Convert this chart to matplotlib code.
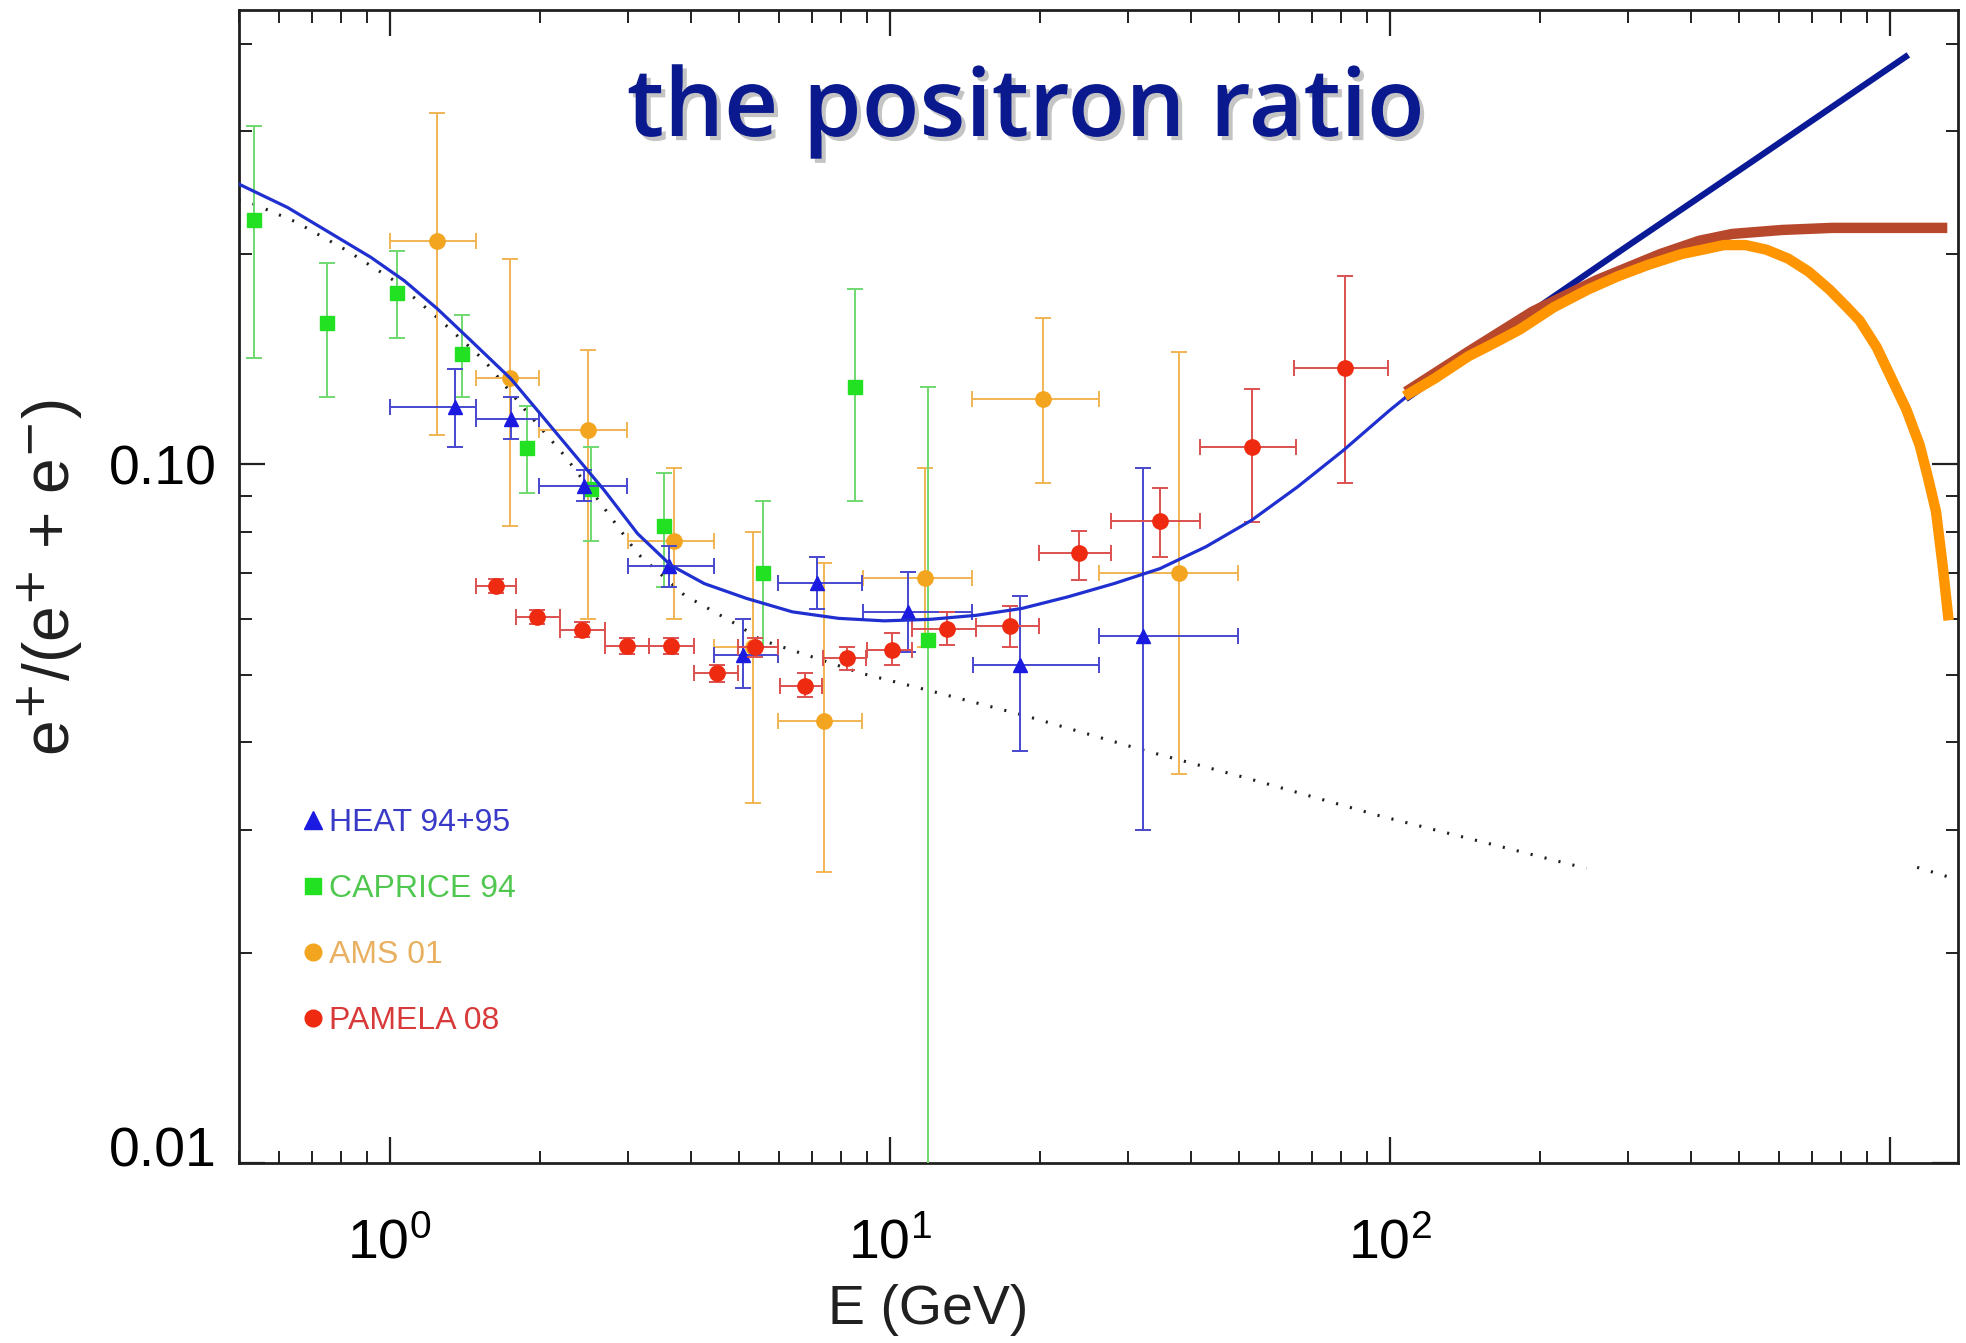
import matplotlib
matplotlib.use('Agg')
import numpy as np
import matplotlib.pyplot as plt
import matplotlib.patheffects as pe
import matplotlib.transforms as mtransforms
from matplotlib.lines import Line2D
from matplotlib.ticker import LogLocator, NullFormatter, FixedLocator
from matplotlib import font_manager

# ---------------- data ----------------
heat_E = [1.35, 1.75, 2.45, 3.62, 5.09, 7.16, 10.9, 18.2, 32.1]
heat_E_lo = [1.00, 1.49, 1.99, 3.00, 4.46, 5.98, 8.86, 14.7, 26.2]
heat_E_hi = [1.49, 1.99, 2.99, 4.46, 5.98, 8.81, 14.6, 26.2, 49.7]
heat_R = [0.121, 0.116, 0.0932, 0.0716, 0.0534, 0.0676, 0.0614, 0.0517, 0.0568]
heat_R_lo = [0.106, 0.1086, 0.0887, 0.0668, 0.0478, 0.0620, 0.0538, 0.0389, 0.0300]
heat_R_hi = [0.137, 0.125, 0.098, 0.0765, 0.060, 0.0737, 0.0701, 0.0648, 0.0988]

caprice_E = [0.536, 0.749, 1.035, 1.397, 1.887, 2.53, 3.54, 5.58, 8.51, 11.96]
caprice_R = [0.2236, 0.1594, 0.176, 0.1438, 0.1055, 0.0921, 0.0817, 0.0698, 0.129, 0.0561]
caprice_R_lo = [0.142, 0.125, 0.1517, 0.125, 0.091, 0.0777, 0.0668, 0.0547, 0.0887, 0.005]
caprice_R_hi = [0.305, 0.194, 0.2017, 0.1634, 0.1214, 0.106, 0.0971, 0.0887, 0.178, 0.129]

ams_E = [1.245, 1.74, 2.49, 3.71, 5.33, 7.41, 11.75, 20.3, 37.9]
ams_E_lo = [1.0, 1.49, 1.99, 3.0, 4.46, 5.98, 8.86, 14.6, 26.2]
ams_E_hi = [1.49, 1.99, 2.99, 4.46, 5.98, 8.81, 14.6, 26.2, 49.7]
ams_R = [0.209, 0.133, 0.1118, 0.0777, 0.0547, 0.0429, 0.0687, 0.124, 0.0698]
ams_R_lo = [0.110, 0.0817, 0.060, 0.060, 0.0328, 0.0261, 0.0547, 0.094, 0.036]
ams_R_hi = [0.3187, 0.1968, 0.1456, 0.0988, 0.080, 0.0722, 0.0988, 0.162, 0.145]

pamela_E = [1.633, 1.976, 2.43, 2.99, 3.66, 4.51, 5.39, 6.79, 8.22, 10.1, 13.0, 17.4, 23.9, 34.8, 53.0, 81.3]
pamela_E_lo = [1.49, 1.79, 2.19, 2.70, 3.31, 4.06, 4.97, 6.05, 7.36, 9.0, 11.1, 14.9, 19.9, 27.7, 41.7, 64.5]
pamela_E_hi = [1.79, 2.19, 2.70, 3.31, 4.06, 4.97, 5.98, 7.32, 8.98, 11.1, 14.9, 19.9, 27.7, 41.7, 65.0, 99.4]
pamela_R = [0.067, 0.0604, 0.058, 0.055, 0.055, 0.0502, 0.0547, 0.0482, 0.0528, 0.0543, 0.0582, 0.0587, 0.0746, 0.0831, 0.106, 0.1374]
pamela_R_lo = [0.0655, 0.0590, 0.0566, 0.0536, 0.0536, 0.0488, 0.0530, 0.0464, 0.0508, 0.0517, 0.0552, 0.0547, 0.0684, 0.0737, 0.0827, 0.094]
pamela_R_hi = [0.0685, 0.0618, 0.0594, 0.0564, 0.0564, 0.0516, 0.0564, 0.0502, 0.0548, 0.0573, 0.0615, 0.0627, 0.0804, 0.0924, 0.128, 0.186]

model_E = [0.497, 0.625, 0.787, 0.918, 1.070, 1.247, 1.454, 1.748, 1.977, 2.305, 2.688, 3.133,
           3.652, 4.261, 5.17, 6.39, 7.90, 9.76, 12.06, 14.9, 18.4, 22.7, 28.1, 34.7, 42.9,
           53.0, 65.4, 80.8, 99.9, 109.9]
model_R = [0.2523, 0.2332, 0.2113, 0.1978, 0.1832, 0.1669, 0.1504, 0.1326, 0.1194, 0.1047,
           0.0918, 0.0796, 0.0717, 0.0675, 0.0643, 0.0615, 0.0602, 0.0597, 0.0600, 0.0608,
           0.0622, 0.0646, 0.0675, 0.0709, 0.0762, 0.0832, 0.0928, 0.1047, 0.1194, 0.1262]

bg_E = [0.499, 0.535, 0.648, 0.818, 1.022, 1.266, 1.547, 1.859, 2.236, 2.646, 3.133, 3.886,
        4.966, 5.52, 8.81, 11.8, 18.4, 32.1, 51.5, 95.5, 159.6, 247.5]
bg_R = [0.2390, 0.2358, 0.2225, 0.2027, 0.1832, 0.1606, 0.1408, 0.1201, 0.1030, 0.0879,
        0.0745, 0.0650, 0.0589, 0.0561, 0.0502, 0.0476, 0.0438, 0.039, 0.0356, 0.0314,
        0.0286, 0.0264]
bg2_E = [1135, 1304]
bg2_R = [0.0265, 0.0257]

navy_E = [107.8, 169, 301, 536, 1090]
navy_R = [0.124, 0.1552, 0.206, 0.2726, 0.3855]

brown_E = [107.8, 143.8, 193, 259, 348, 415.9, 484.5, 609, 767, 1304]
brown_R = [0.127, 0.145, 0.1654, 0.1834, 0.2, 0.2089, 0.2137, 0.2165, 0.218, 0.218]

orange_E = [107.2, 123.3, 143.8, 162.1, 182.3, 212.9, 249.2, 285.8, 327.6, 383.6, 422.6,
            466.6, 514.9, 566.8, 626.8, 689, 758, 821.7, 871, 941.9, 1015, 1080, 1148,
            1191, 1238, 1276, 1312]
orange_R = [0.1252, 0.1328, 0.1428, 0.1492, 0.156, 0.1678, 0.1779, 0.1858, 0.1928, 0.2,
            0.2029, 0.206, 0.206, 0.2029, 0.197, 0.1887, 0.1779, 0.1678, 0.1606, 0.1471,
            0.1315, 0.1198, 0.1066, 0.0962, 0.0856, 0.0718, 0.0598]

legend_labels = ['HEAT 94+95', 'CAPRICE 94', 'AMS 01', 'PAMELA 08']
x_tick_vals = [1, 10, 100, 1000]
x_tick_labels = [r'$\mathregular{10^{0}}$', r'$\mathregular{10^{1}}$', r'$\mathregular{10^{2}}$', '']
y_tick_vals = [0.01, 0.1]
y_tick_labels = ['0.01', '0.10']

# ---------------- fonts ----------------
available = {f.name for f in font_manager.fontManager.ttflist}
narrow = [f for f in ['Liberation Sans Narrow', 'DejaVu Sans Condensed'] if f in available]
legend_family = narrow + ['Liberation Sans', 'DejaVu Sans']

# ---------------- figure ----------------
W, H = 1966, 1343
fig = plt.figure(figsize=(W / 100, H / 100), dpi=100)
fig.patch.set_facecolor('white')
L, R, T, B = 239, 1958, 10, 1163
ax = fig.add_axes([L / W, 1 - B / H, (R - L) / W, (B - T) / H])
ax.set_xscale('log')
ax.set_yscale('log')
ax.set_xlim(0.5, 1370)
ax.set_ylim(0.01, 0.447)

def errs(v, lo, hi):
    v = np.asarray(v, float)
    return [v - np.asarray(lo, float), np.asarray(hi, float) - v]

c_heat, e_heat = '#1a1ae0', '#4848d0'
c_cap, e_cap = '#22e022', '#70d870'
c_ams, e_ams = '#f4a520', '#f0b454'
c_pam, e_pam = '#ee2a10', '#dd5050'

ekw = dict(elinewidth=1.4, capsize=6, capthick=1.4, linestyle='none')
ax.errorbar(ams_E, ams_R, xerr=errs(ams_E, ams_E_lo, ams_E_hi),
            yerr=errs(ams_R, ams_R_lo, ams_R_hi), fmt='o', color=c_ams,
            ecolor=e_ams, ms=11, zorder=3, **ekw)
ax.errorbar(caprice_E, caprice_R, yerr=errs(caprice_R, caprice_R_lo, caprice_R_hi),
            fmt='s', color=c_cap, ecolor=e_cap, ms=9.5, zorder=3, **ekw)
ax.errorbar(heat_E, heat_R, xerr=errs(heat_E, heat_E_lo, heat_E_hi),
            yerr=errs(heat_R, heat_R_lo, heat_R_hi), fmt='^', color=c_heat,
            ecolor=e_heat, ms=10.5, zorder=4, **ekw)
ax.errorbar(pamela_E, pamela_R, xerr=errs(pamela_E, pamela_E_lo, pamela_E_hi),
            yerr=errs(pamela_R, pamela_R_lo, pamela_R_hi), fmt='o', color=c_pam,
            ecolor=e_pam, ms=11, zorder=5, **ekw)

dot_style = dict(color='#202020', lw=2.2, linestyle=(0, (0.7, 4.0)), zorder=2)
ax.plot(bg_E, bg_R, **dot_style)
ax.plot(bg2_E, bg2_R, **dot_style)
ax.plot(model_E, model_R, color='#2030d0', lw=2.3, zorder=6, solid_joinstyle='round')

ax.plot(navy_E, navy_R, color='#0a1a96', lw=4.5, zorder=7, solid_capstyle='butt')
ax.plot(brown_E, brown_R, color='#b8482c', lw=7.5, zorder=8, solid_capstyle='butt',
        solid_joinstyle='round')
ax.plot(orange_E, orange_R, color='#ff9500', lw=7.5, zorder=9, solid_capstyle='butt',
        solid_joinstyle='round')

# ---------------- axes styling ----------------
tick_font = ['Liberation Sans', 'DejaVu Sans']
ax.xaxis.set_major_locator(FixedLocator(x_tick_vals))
ax.set_xticklabels(x_tick_labels, fontsize=40, family=tick_font)
ax.xaxis.set_minor_locator(LogLocator(base=10, subs=np.arange(2, 10)))
ax.xaxis.set_minor_formatter(NullFormatter())
ax.yaxis.set_major_locator(FixedLocator(y_tick_vals))
ax.set_yticklabels(y_tick_labels, fontsize=40, family=tick_font)
ax.yaxis.set_minor_locator(LogLocator(base=10, subs=np.arange(2, 10)))
ax.yaxis.set_minor_formatter(NullFormatter())

ax.tick_params(which='both', direction='in', top=True, right=True, color='#202020')
ax.tick_params(which='major', length=19, width=1.6)
ax.tick_params(which='minor', length=9, width=1.4)
ax.tick_params(axis='x', which='major', pad=40)
ax.tick_params(axis='y', which='major', pad=16)
for s in ax.spines.values():
    s.set_linewidth(2.0)
    s.set_color('#202020')

# the lowest y label sits a little above its tick in the reference
lbl = ax.get_yticklabels()[0]
lbl.set_transform(lbl.get_transform() + mtransforms.ScaledTranslation(0, 12 / 72, fig.dpi_scale_trans))

fig.text(928 / W, 1 - 1310 / H, 'E (GeV)', fontsize=40, family=tick_font,
         ha='center', va='center', color='#202020')
fig.text(50 / W, 1 - 577 / H, r'e$^{+}$/(e$^{+}$ + e$^{-}$)', fontsize=46,
         family=tick_font, rotation=90, ha='center', va='center', color='#202020')

fig.text(1026 / W, 1 - 136 / H, 'the positron ratio', fontsize=68,
         family=['Open Sans', 'DejaVu Sans'], fontweight='semibold',
         color='#0a1a8e', ha='center', va='baseline',
         path_effects=[pe.withSimplePatchShadow(offset=(3, -3), shadow_rgbFace='#c4c4c4', alpha=1.0)])

# ---------------- legend ----------------
handles = [Line2D([], [], marker='^', color=c_heat, ls='none', ms=13),
           Line2D([], [], marker='s', color=c_cap, ls='none', ms=11),
           Line2D([], [], marker='o', color=c_ams, ls='none', ms=12),
           Line2D([], [], marker='o', color=c_pam, ls='none', ms=12)]
leg = ax.legend(handles, legend_labels, loc='upper left',
                bbox_to_anchor=(302 / W, 1 - 808 / H), bbox_transform=fig.transFigure,
                frameon=False, borderpad=0, borderaxespad=0, handlelength=0.7,
                handletextpad=0.15, labelspacing=1.13,
                prop={'family': legend_family, 'size': 23},
                labelcolor=['#3a3ac8', '#50c850', '#e8b060', '#d83a3a'])

fig.savefig('out.png', dpi=100, facecolor='white')
